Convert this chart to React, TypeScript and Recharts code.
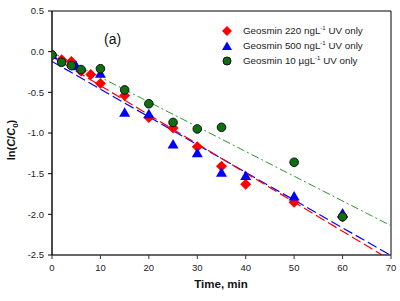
import React from "react";
import {
  ComposedChart,
  Scatter,
  Line,
  XAxis,
  YAxis,
  ReferenceLine,
} from "recharts";

// Observed data (time in min, ln(C/C0))
const geo220 = [
  { t: 0, v: -0.04 }, { t: 2, v: -0.1 }, { t: 4, v: -0.12 }, { t: 6, v: -0.24 },
  { t: 8, v: -0.28 }, { t: 10, v: -0.39 }, { t: 15, v: -0.54 }, { t: 20, v: -0.81 },
  { t: 25, v: -0.94 }, { t: 30, v: -1.17 }, { t: 35, v: -1.41 }, { t: 40, v: -1.63 },
  { t: 50, v: -1.85 }, { t: 60, v: -2.03 },
];
const geo500 = [
  { t: 0, v: -0.04 }, { t: 5, v: -0.18 }, { t: 10, v: -0.27 }, { t: 15, v: -0.75 },
  { t: 20, v: -0.77 }, { t: 25, v: -1.14 }, { t: 30, v: -1.25 }, { t: 35, v: -1.49 },
  { t: 40, v: -1.53 }, { t: 50, v: -1.78 }, { t: 60, v: -1.99 },
];
const geo10 = [
  { t: 0, v: -0.04 }, { t: 2, v: -0.13 }, { t: 4, v: -0.17 }, { t: 6, v: -0.22 },
  { t: 10, v: -0.21 }, { t: 15, v: -0.47 }, { t: 20, v: -0.64 }, { t: 25, v: -0.87 },
  { t: 30, v: -0.95 }, { t: 35, v: -0.93 }, { t: 50, v: -1.36 }, { t: 60, v: -2.03 },
];

// Linear fit lines (endpoints)
const fit220 = [{ t: 0, v: -0.06 }, { t: 70, v: -2.566 }];
const fit500 = [{ t: 0, v: -0.12 }, { t: 70, v: -2.507 }];
const fit10 = [{ t: 0, v: -0.01 }, { t: 70, v: -2.14 }];

const xTicks = [0, 10, 20, 30, 40, 50, 60, 70];
const yTicks = [0.5, 0.0, -0.5, -1.0, -1.5, -2.0, -2.5];

const RED = "#ff0000";
const BLUE = "#0000ff";
const GREEN = "#0d6e12";
const FONT = "'Liberation Sans', Arial, sans-serif";

const Diamond = (p: any) => {
  const { cx, cy } = p;
  const s = 5.5;
  return (
    <path
      d={`M${cx},${cy - s}L${cx + s},${cy}L${cx},${cy + s}L${cx - s},${cy}Z`}
      fill={RED}
    />
  );
};
const Triangle = (p: any) => {
  const { cx, cy } = p;
  return (
    <path
      d={`M${cx},${cy - 5.5}L${cx + 5.5},${cy + 4}L${cx - 5.5},${cy + 4}Z`}
      fill={BLUE}
    />
  );
};
const Circle = (p: any) => {
  const { cx, cy } = p;
  return <circle cx={cx} cy={cy} r={4.3} fill={GREEN} stroke="#111" strokeWidth={1} />;
};

const legendItems = [
  { label: "Geosmin 220 ngL", shape: "d" },
  { label: "Geosmin 500 ngL", shape: "t" },
  { label: "Geosmin 10 \u00b5gL", shape: "c" },
];

const LegendBox = () => (
  <div
    style={{
      position: "absolute",
      left: 221,
      top: 24,
      width: 178,
      fontFamily: FONT,
      fontSize: 9.8,
      color: "#222",
      lineHeight: "12px",
    }}
  >
    {legendItems.map((it, i) => (
      <div
        key={i}
        style={{ display: "flex", alignItems: "center", height: i === 0 ? 14 : 15.5 }}
      >
        <svg width={12} height={12} style={{ marginRight: 10, flex: "none" }}>
          {it.shape === "d" && <path d="M6,1L11,6L6,11L1,6Z" fill={RED} />}
          {it.shape === "t" && <path d="M6,1.5L11,10L1,10Z" fill={BLUE} />}
          {it.shape === "c" && (
            <circle cx={6} cy={6} r={4} fill={GREEN} stroke="#111" strokeWidth={1} />
          )}
        </svg>
        <span style={{ whiteSpace: "nowrap" }}>
          {it.label}
          <sup style={{ fontSize: 6, verticalAlign: 4, lineHeight: 0 }}>-1</sup> UV only
        </span>
      </div>
    ))}
  </div>
);

const YLabel = () => (
  <text
    transform="translate(15,140) rotate(-90)"
    textAnchor="middle"
    fontFamily={FONT}
    fontWeight="bold"
    fontSize={11}
    fill="#111"
  >
    ln(
    <tspan fontStyle="italic">C</tspan>/<tspan fontStyle="italic">C</tspan>
    <tspan fontSize={8} dy={3}>0</tspan>
    <tspan dy={-3}>)</tspan>
  </text>
);

const XLabel = () => (
  <text
    x={221}
    y={288}
    textAnchor="middle"
    fontFamily={FONT}
    fontWeight="bold"
    fontSize={11.5}
    fill="#111"
  >
    Time, min
  </text>
);

export default function App() {
  return (
    <div style={{ position: "absolute", left: 0, top: 0, width: 400, height: 301, background: "#fff" }}>
      <ComposedChart
        width={400}
        height={301}
        margin={{ top: 11, right: 9, left: 0, bottom: 0 }}
      >
        <XAxis
          type="number"
          dataKey="t"
          domain={[0, 70]}
          ticks={xTicks}
          allowDataOverflow
          height={46}
          axisLine={{ stroke: "#333", strokeWidth: 1.6 }}
          tickLine={{ stroke: "#333" }}
          tickSize={4}
          tickMargin={5}
          tick={{ fontSize: 9.5, fill: "#222", fontFamily: FONT }}
          label={<XLabel />}
        />
        <YAxis
          type="number"
          dataKey="v"
          domain={[-2.5, 0.5]}
          ticks={yTicks}
          allowDataOverflow
          width={52}
          axisLine={{ stroke: "#000", strokeWidth: 1.4 }}
          tickLine={{ stroke: "#000" }}
          tickSize={4}
          tickMargin={4}
          tickFormatter={(v: number) => v.toFixed(1)}
          tick={{ fontSize: 9.5, fill: "#222", fontFamily: FONT }}
          label={<YLabel />}
        />
        <ReferenceLine y={0.5} stroke="#000" strokeWidth={1} />
        <ReferenceLine x={70} stroke="#000" strokeWidth={1} />
        <Line
          data={fit10}
          dataKey="v"
          stroke="#2a9a2a"
          strokeWidth={1}
          strokeDasharray="8 3 2 3"
          dot={false}
          isAnimationActive={false}
          legendType="none"
        />
        <Line
          data={fit500}
          dataKey="v"
          stroke={BLUE}
          strokeWidth={1.2}
          strokeDasharray="10 4"
          dot={false}
          isAnimationActive={false}
          legendType="none"
        />
        <Line
          data={fit220}
          dataKey="v"
          stroke={RED}
          strokeWidth={1.2}
          strokeDasharray="10 4"
          dot={false}
          isAnimationActive={false}
          legendType="none"
        />
        <Scatter data={geo220} dataKey="v" shape={<Diamond />} isAnimationActive={false} />
        <Scatter data={geo500} dataKey="v" shape={<Triangle />} isAnimationActive={false} />
        <Scatter data={geo10} dataKey="v" shape={<Circle />} isAnimationActive={false} />
      </ComposedChart>
      <LegendBox />
      <div
        style={{
          position: "absolute",
          left: 104,
          top: 31,
          fontFamily: FONT,
          fontSize: 14,
          color: "#111",
        }}
      >
        (a)
      </div>
    </div>
  );
}
